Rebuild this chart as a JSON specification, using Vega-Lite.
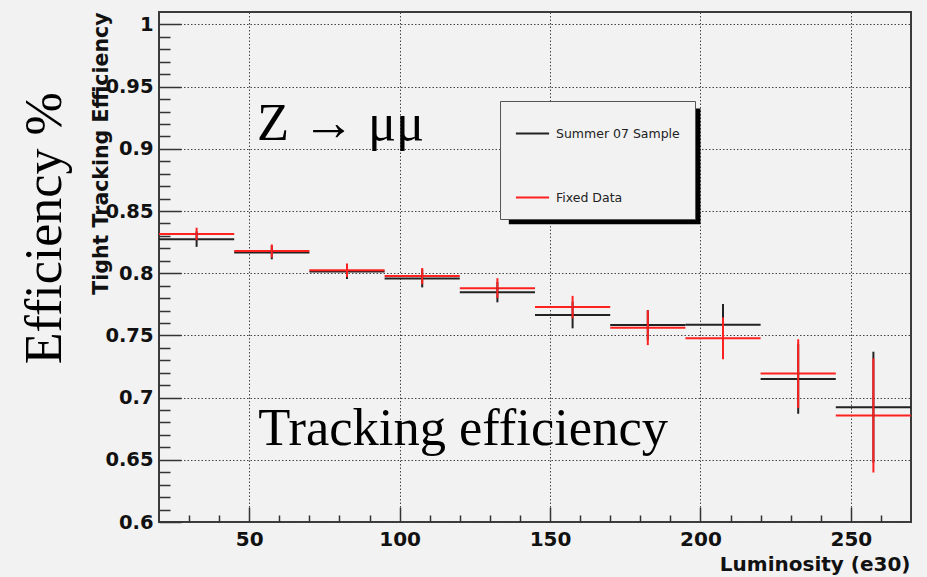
{
  "$schema": "https://vega.github.io/schema/vega-lite/v6.json",
  "width": 752,
  "height": 510,
  "autosize": {"type": "none"},
  "padding": {"left": 159, "top": 12, "right": 16, "bottom": 55},
  "background": "#f2f2f2",
  "config": {"view": {"stroke": "#3a3a3a", "strokeWidth": 2, "fill": "#f2f2f2"}},
  "data": {
    "values": [
      {"series": "Summer 07 Sample", "xlo": 20, "xhi": 45, "lum": 32.5, "eff": 0.8274, "lo": 0.8212, "hi": 0.8336},
      {"series": "Summer 07 Sample", "xlo": 45, "xhi": 70, "lum": 57.5, "eff": 0.8167, "lo": 0.8112, "hi": 0.8222},
      {"series": "Summer 07 Sample", "xlo": 70, "xhi": 95, "lum": 82.5, "eff": 0.8013, "lo": 0.7953, "hi": 0.8073},
      {"series": "Summer 07 Sample", "xlo": 95, "xhi": 120, "lum": 107.5, "eff": 0.7958, "lo": 0.7886, "hi": 0.803},
      {"series": "Summer 07 Sample", "xlo": 120, "xhi": 145, "lum": 132.5, "eff": 0.7848, "lo": 0.7766, "hi": 0.793},
      {"series": "Summer 07 Sample", "xlo": 145, "xhi": 170, "lum": 157.5, "eff": 0.7664, "lo": 0.7557, "hi": 0.7771},
      {"series": "Summer 07 Sample", "xlo": 170, "xhi": 195, "lum": 182.5, "eff": 0.7583, "lo": 0.7463, "hi": 0.7703},
      {"series": "Summer 07 Sample", "xlo": 195, "xhi": 220, "lum": 207.5, "eff": 0.7586, "lo": 0.742, "hi": 0.7752},
      {"series": "Summer 07 Sample", "xlo": 220, "xhi": 245, "lum": 232.5, "eff": 0.715, "lo": 0.687, "hi": 0.743},
      {"series": "Summer 07 Sample", "xlo": 245, "xhi": 270, "lum": 257.5, "eff": 0.6923, "lo": 0.6477, "hi": 0.7369},
      {"series": "Fixed Data", "xlo": 20, "xhi": 45, "lum": 32.5, "eff": 0.8316, "lo": 0.8266, "hi": 0.8366},
      {"series": "Fixed Data", "xlo": 45, "xhi": 70, "lum": 57.5, "eff": 0.8178, "lo": 0.8125, "hi": 0.8231},
      {"series": "Fixed Data", "xlo": 70, "xhi": 95, "lum": 82.5, "eff": 0.8024, "lo": 0.7969, "hi": 0.8079},
      {"series": "Fixed Data", "xlo": 95, "xhi": 120, "lum": 107.5, "eff": 0.7977, "lo": 0.7912, "hi": 0.8042},
      {"series": "Fixed Data", "xlo": 120, "xhi": 145, "lum": 132.5, "eff": 0.788, "lo": 0.78, "hi": 0.796},
      {"series": "Fixed Data", "xlo": 145, "xhi": 170, "lum": 157.5, "eff": 0.7728, "lo": 0.7638, "hi": 0.7818},
      {"series": "Fixed Data", "xlo": 170, "xhi": 195, "lum": 182.5, "eff": 0.7562, "lo": 0.7422, "hi": 0.7702},
      {"series": "Fixed Data", "xlo": 195, "xhi": 220, "lum": 207.5, "eff": 0.7477, "lo": 0.7309, "hi": 0.7645},
      {"series": "Fixed Data", "xlo": 220, "xhi": 245, "lum": 232.5, "eff": 0.7193, "lo": 0.6917, "hi": 0.7469},
      {"series": "Fixed Data", "xlo": 245, "xhi": 270, "lum": 257.5, "eff": 0.6856, "lo": 0.6398, "hi": 0.7316}
    ]
  },
  "layer": [
    {
      "mark": {"type": "rule", "strokeWidth": 2},
      "encoding": {
        "x": {
          "field": "xlo", "type": "quantitative",
          "scale": {"domain": [20, 270], "nice": false, "zero": false},
          "axis": {
            "title": "Luminosity (e30)",
            "values": [30, 40, 50, 60, 70, 80, 90, 100, 110, 120, 130, 140, 150, 160, 170, 180, 190, 200, 210, 220, 230, 240, 250, 260],
            "labelExpr": "datum.value % 50 === 0 ? '' + datum.value : ''",
            "tickSize": {"condition": {"test": "datum.value % 50 === 0", "value": -15}, "value": -7},
            "grid": true,
            "gridOpacity": {"condition": {"test": "datum.value % 50 === 0", "value": 1}, "value": 0},
            "gridDash": [1.5, 2], "gridColor": "#444444", "gridWidth": 1,
            "domain": false, "tickColor": "#333333", "tickWidth": 1.5,
            "labelFont": "DejaVu Sans", "labelFontWeight": "bold", "labelFontSize": 20, "labelColor": "#111111",
            "labelBaseline": "alphabetic", "labelPadding": 38, "labelFlush": false, "labelOverlap": false,
            "titleFont": "DejaVu Sans", "titleFontWeight": "bold", "titleFontSize": 20, "titleColor": "#111111",
            "titleAlign": "right", "titleAnchor": "end", "titleBaseline": "alphabetic", "titleX": 751, "titleY": 48
          }
        },
        "x2": {"field": "xhi"},
        "y": {
          "field": "eff", "type": "quantitative",
          "scale": {"domain": [0.6, 1.01], "nice": false, "zero": false},
          "axis": {
            "title": "Tight Tracking Efficiency",
            "values": [0.6, 0.61, 0.62, 0.63, 0.64, 0.65, 0.66, 0.67, 0.68, 0.69, 0.7, 0.71, 0.72, 0.73, 0.74, 0.75, 0.76, 0.77, 0.78, 0.79, 0.8, 0.81, 0.82, 0.83, 0.84, 0.85, 0.86, 0.87, 0.88, 0.89, 0.9, 0.91, 0.92, 0.93, 0.94, 0.95, 0.96, 0.97, 0.98, 0.99, 1.0],
            "labelExpr": "abs(datum.value * 20 - round(datum.value * 20)) < 0.001 ? '' + (round(datum.value * 100) / 100) : ''",
            "tickSize": {"condition": {"test": "abs(datum.value * 20 - round(datum.value * 20)) < 0.001", "value": -22}, "value": -11},
            "grid": true,
            "gridOpacity": {"condition": {"test": "abs(datum.value * 20 - round(datum.value * 20)) < 0.001", "value": 1}, "value": 0},
            "gridDash": [1.5, 2], "gridColor": "#444444", "gridWidth": 1,
            "domain": false, "tickColor": "#333333", "tickWidth": 1.5,
            "labelFont": "DejaVu Sans", "labelFontWeight": "bold", "labelFontSize": 19.5, "labelColor": "#111111",
            "labelPadding": 28, "labelFlush": false, "labelOverlap": false,
            "titleFont": "DejaVu Sans", "titleFontWeight": "bold", "titleFontSize": 20.5, "titleColor": "#111111",
            "titleAngle": -90, "titleAlign": "right", "titleAnchor": "end", "titleBaseline": "alphabetic", "titleX": -52, "titleY": 0
          }
        },
        "color": {
          "field": "series", "type": "nominal",
          "scale": {"domain": ["Summer 07 Sample", "Fixed Data"], "range": ["#222222", "#ff2020"]},
          "legend": {
            "orient": "none", "legendX": 341, "legendY": 89, "title": null,
            "symbolType": "stroke", "symbolSize": 1100, "symbolStrokeWidth": 1.8,
            "labelFont": "DejaVu Sans", "labelFontSize": 12.5, "labelColor": "#222222", "labelOffset": 6,
            "rowPadding": 40, "padding": 15, "fillColor": "#f2f2f2", "strokeColor": "#555555", "cornerRadius": 0
          }
        }
      }
    },
    {
      "mark": {"type": "rule", "strokeWidth": 2},
      "encoding": {
        "x": {
          "field": "lum", "type": "quantitative",
          "axis": {
            "title": "Luminosity (e30)",
            "values": [30, 40, 50, 60, 70, 80, 90, 100, 110, 120, 130, 140, 150, 160, 170, 180, 190, 200, 210, 220, 230, 240, 250, 260],
            "labelExpr": "datum.value % 50 === 0 ? '' + datum.value : ''",
            "tickSize": {"condition": {"test": "datum.value % 50 === 0", "value": -15}, "value": -7},
            "grid": true,
            "gridOpacity": {"condition": {"test": "datum.value % 50 === 0", "value": 1}, "value": 0},
            "gridDash": [1.5, 2], "gridColor": "#444444", "gridWidth": 1,
            "domain": false, "tickColor": "#333333", "tickWidth": 1.5,
            "labelFont": "DejaVu Sans", "labelFontWeight": "bold", "labelFontSize": 20, "labelColor": "#111111",
            "labelBaseline": "alphabetic", "labelPadding": 38, "labelFlush": false, "labelOverlap": false,
            "titleFont": "DejaVu Sans", "titleFontWeight": "bold", "titleFontSize": 20, "titleColor": "#111111",
            "titleAlign": "right", "titleAnchor": "end", "titleBaseline": "alphabetic", "titleX": 751, "titleY": 48
          }
        },
        "y": {
          "field": "lo", "type": "quantitative",
          "axis": {
            "title": "Tight Tracking Efficiency",
            "values": [0.6, 0.61, 0.62, 0.63, 0.64, 0.65, 0.66, 0.67, 0.68, 0.69, 0.7, 0.71, 0.72, 0.73, 0.74, 0.75, 0.76, 0.77, 0.78, 0.79, 0.8, 0.81, 0.82, 0.83, 0.84, 0.85, 0.86, 0.87, 0.88, 0.89, 0.9, 0.91, 0.92, 0.93, 0.94, 0.95, 0.96, 0.97, 0.98, 0.99, 1.0],
            "labelExpr": "abs(datum.value * 20 - round(datum.value * 20)) < 0.001 ? '' + (round(datum.value * 100) / 100) : ''",
            "tickSize": {"condition": {"test": "abs(datum.value * 20 - round(datum.value * 20)) < 0.001", "value": -22}, "value": -11},
            "grid": true,
            "gridOpacity": {"condition": {"test": "abs(datum.value * 20 - round(datum.value * 20)) < 0.001", "value": 1}, "value": 0},
            "gridDash": [1.5, 2], "gridColor": "#444444", "gridWidth": 1,
            "domain": false, "tickColor": "#333333", "tickWidth": 1.5,
            "labelFont": "DejaVu Sans", "labelFontWeight": "bold", "labelFontSize": 19.5, "labelColor": "#111111",
            "labelPadding": 28, "labelFlush": false, "labelOverlap": false,
            "titleFont": "DejaVu Sans", "titleFontWeight": "bold", "titleFontSize": 20.5, "titleColor": "#111111",
            "titleAngle": -90, "titleAlign": "right", "titleAnchor": "end", "titleBaseline": "alphabetic", "titleX": -52, "titleY": 0
          }
        },
        "y2": {"field": "hi"},
        "color": {"field": "series", "type": "nominal"}
      }
    },
    {
      "data": {"values": [{"label": "shadow"}]},
      "mark": {"type": "rect", "color": "#000000", "clip": false},
      "encoding": {
        "x": {"datum": 136.3, "type": "quantitative", "axis": {
            "title": "Luminosity (e30)",
            "values": [30, 40, 50, 60, 70, 80, 90, 100, 110, 120, 130, 140, 150, 160, 170, 180, 190, 200, 210, 220, 230, 240, 250, 260],
            "labelExpr": "datum.value % 50 === 0 ? '' + datum.value : ''",
            "tickSize": {"condition": {"test": "datum.value % 50 === 0", "value": -15}, "value": -7},
            "grid": true,
            "gridOpacity": {"condition": {"test": "datum.value % 50 === 0", "value": 1}, "value": 0},
            "gridDash": [1.5, 2], "gridColor": "#444444", "gridWidth": 1,
            "domain": false, "tickColor": "#333333", "tickWidth": 1.5,
            "labelFont": "DejaVu Sans", "labelFontWeight": "bold", "labelFontSize": 20, "labelColor": "#111111",
            "labelBaseline": "alphabetic", "labelPadding": 38, "labelFlush": false, "labelOverlap": false,
            "titleFont": "DejaVu Sans", "titleFontWeight": "bold", "titleFontSize": 20, "titleColor": "#111111",
            "titleAlign": "right", "titleAnchor": "end", "titleBaseline": "alphabetic", "titleX": 751, "titleY": 48
          }},
        "x2": {"datum": 200},
        "y": {"datum": 0.9325, "type": "quantitative", "axis": {
            "title": "Tight Tracking Efficiency",
            "values": [0.6, 0.61, 0.62, 0.63, 0.64, 0.65, 0.66, 0.67, 0.68, 0.69, 0.7, 0.71, 0.72, 0.73, 0.74, 0.75, 0.76, 0.77, 0.78, 0.79, 0.8, 0.81, 0.82, 0.83, 0.84, 0.85, 0.86, 0.87, 0.88, 0.89, 0.9, 0.91, 0.92, 0.93, 0.94, 0.95, 0.96, 0.97, 0.98, 0.99, 1.0],
            "labelExpr": "abs(datum.value * 20 - round(datum.value * 20)) < 0.001 ? '' + (round(datum.value * 100) / 100) : ''",
            "tickSize": {"condition": {"test": "abs(datum.value * 20 - round(datum.value * 20)) < 0.001", "value": -22}, "value": -11},
            "grid": true,
            "gridOpacity": {"condition": {"test": "abs(datum.value * 20 - round(datum.value * 20)) < 0.001", "value": 1}, "value": 0},
            "gridDash": [1.5, 2], "gridColor": "#444444", "gridWidth": 1,
            "domain": false, "tickColor": "#333333", "tickWidth": 1.5,
            "labelFont": "DejaVu Sans", "labelFontWeight": "bold", "labelFontSize": 19.5, "labelColor": "#111111",
            "labelPadding": 28, "labelFlush": false, "labelOverlap": false,
            "titleFont": "DejaVu Sans", "titleFontWeight": "bold", "titleFontSize": 20.5, "titleColor": "#111111",
            "titleAngle": -90, "titleAlign": "right", "titleAnchor": "end", "titleBaseline": "alphabetic", "titleX": -52, "titleY": 0
          }},
        "y2": {"datum": 0.8394}
      }
    },
    {
      "data": {"values": [
        {"label": "Z → μμ", "lx": 52.6, "ly": 0.9068, "size": "s"},
        {"label": "Tracking efficiency", "lx": 53, "ly": 0.662, "size": "s"}
      ]},
      "mark": {"type": "text", "font": "Liberation Serif", "fontSize": 52.5, "align": "left", "baseline": "alphabetic", "color": "#000000"},
      "encoding": {
        "x": {"field": "lx", "type": "quantitative", "axis": {
            "title": "Luminosity (e30)",
            "values": [30, 40, 50, 60, 70, 80, 90, 100, 110, 120, 130, 140, 150, 160, 170, 180, 190, 200, 210, 220, 230, 240, 250, 260],
            "labelExpr": "datum.value % 50 === 0 ? '' + datum.value : ''",
            "tickSize": {"condition": {"test": "datum.value % 50 === 0", "value": -15}, "value": -7},
            "grid": true,
            "gridOpacity": {"condition": {"test": "datum.value % 50 === 0", "value": 1}, "value": 0},
            "gridDash": [1.5, 2], "gridColor": "#444444", "gridWidth": 1,
            "domain": false, "tickColor": "#333333", "tickWidth": 1.5,
            "labelFont": "DejaVu Sans", "labelFontWeight": "bold", "labelFontSize": 20, "labelColor": "#111111",
            "labelBaseline": "alphabetic", "labelPadding": 38, "labelFlush": false, "labelOverlap": false,
            "titleFont": "DejaVu Sans", "titleFontWeight": "bold", "titleFontSize": 20, "titleColor": "#111111",
            "titleAlign": "right", "titleAnchor": "end", "titleBaseline": "alphabetic", "titleX": 751, "titleY": 48
          }},
        "y": {"field": "ly", "type": "quantitative", "axis": {
            "title": "Tight Tracking Efficiency",
            "values": [0.6, 0.61, 0.62, 0.63, 0.64, 0.65, 0.66, 0.67, 0.68, 0.69, 0.7, 0.71, 0.72, 0.73, 0.74, 0.75, 0.76, 0.77, 0.78, 0.79, 0.8, 0.81, 0.82, 0.83, 0.84, 0.85, 0.86, 0.87, 0.88, 0.89, 0.9, 0.91, 0.92, 0.93, 0.94, 0.95, 0.96, 0.97, 0.98, 0.99, 1.0],
            "labelExpr": "abs(datum.value * 20 - round(datum.value * 20)) < 0.001 ? '' + (round(datum.value * 100) / 100) : ''",
            "tickSize": {"condition": {"test": "abs(datum.value * 20 - round(datum.value * 20)) < 0.001", "value": -22}, "value": -11},
            "grid": true,
            "gridOpacity": {"condition": {"test": "abs(datum.value * 20 - round(datum.value * 20)) < 0.001", "value": 1}, "value": 0},
            "gridDash": [1.5, 2], "gridColor": "#444444", "gridWidth": 1,
            "domain": false, "tickColor": "#333333", "tickWidth": 1.5,
            "labelFont": "DejaVu Sans", "labelFontWeight": "bold", "labelFontSize": 19.5, "labelColor": "#111111",
            "labelPadding": 28, "labelFlush": false, "labelOverlap": false,
            "titleFont": "DejaVu Sans", "titleFontWeight": "bold", "titleFontSize": 20.5, "titleColor": "#111111",
            "titleAngle": -90, "titleAlign": "right", "titleAnchor": "end", "titleBaseline": "alphabetic", "titleX": -52, "titleY": 0
          }},
        "text": {"field": "label"}
      }
    },
    {
      "data": {"values": [{"label": "Efficiency %", "lx": -18, "ly": 0.8362}]},
      "mark": {"type": "text", "font": "Liberation Serif", "fontSize": 52, "align": "center", "baseline": "middle", "angle": 270, "color": "#000000", "clip": false},
      "encoding": {
        "x": {"field": "lx", "type": "quantitative", "axis": {
            "title": "Luminosity (e30)",
            "values": [30, 40, 50, 60, 70, 80, 90, 100, 110, 120, 130, 140, 150, 160, 170, 180, 190, 200, 210, 220, 230, 240, 250, 260],
            "labelExpr": "datum.value % 50 === 0 ? '' + datum.value : ''",
            "tickSize": {"condition": {"test": "datum.value % 50 === 0", "value": -15}, "value": -7},
            "grid": true,
            "gridOpacity": {"condition": {"test": "datum.value % 50 === 0", "value": 1}, "value": 0},
            "gridDash": [1.5, 2], "gridColor": "#444444", "gridWidth": 1,
            "domain": false, "tickColor": "#333333", "tickWidth": 1.5,
            "labelFont": "DejaVu Sans", "labelFontWeight": "bold", "labelFontSize": 20, "labelColor": "#111111",
            "labelBaseline": "alphabetic", "labelPadding": 38, "labelFlush": false, "labelOverlap": false,
            "titleFont": "DejaVu Sans", "titleFontWeight": "bold", "titleFontSize": 20, "titleColor": "#111111",
            "titleAlign": "right", "titleAnchor": "end", "titleBaseline": "alphabetic", "titleX": 751, "titleY": 48
          }},
        "y": {"field": "ly", "type": "quantitative", "axis": {
            "title": "Tight Tracking Efficiency",
            "values": [0.6, 0.61, 0.62, 0.63, 0.64, 0.65, 0.66, 0.67, 0.68, 0.69, 0.7, 0.71, 0.72, 0.73, 0.74, 0.75, 0.76, 0.77, 0.78, 0.79, 0.8, 0.81, 0.82, 0.83, 0.84, 0.85, 0.86, 0.87, 0.88, 0.89, 0.9, 0.91, 0.92, 0.93, 0.94, 0.95, 0.96, 0.97, 0.98, 0.99, 1.0],
            "labelExpr": "abs(datum.value * 20 - round(datum.value * 20)) < 0.001 ? '' + (round(datum.value * 100) / 100) : ''",
            "tickSize": {"condition": {"test": "abs(datum.value * 20 - round(datum.value * 20)) < 0.001", "value": -22}, "value": -11},
            "grid": true,
            "gridOpacity": {"condition": {"test": "abs(datum.value * 20 - round(datum.value * 20)) < 0.001", "value": 1}, "value": 0},
            "gridDash": [1.5, 2], "gridColor": "#444444", "gridWidth": 1,
            "domain": false, "tickColor": "#333333", "tickWidth": 1.5,
            "labelFont": "DejaVu Sans", "labelFontWeight": "bold", "labelFontSize": 19.5, "labelColor": "#111111",
            "labelPadding": 28, "labelFlush": false, "labelOverlap": false,
            "titleFont": "DejaVu Sans", "titleFontWeight": "bold", "titleFontSize": 20.5, "titleColor": "#111111",
            "titleAngle": -90, "titleAlign": "right", "titleAnchor": "end", "titleBaseline": "alphabetic", "titleX": -52, "titleY": 0
          }},
        "text": {"field": "label"}
      }
    }
  ]
}
